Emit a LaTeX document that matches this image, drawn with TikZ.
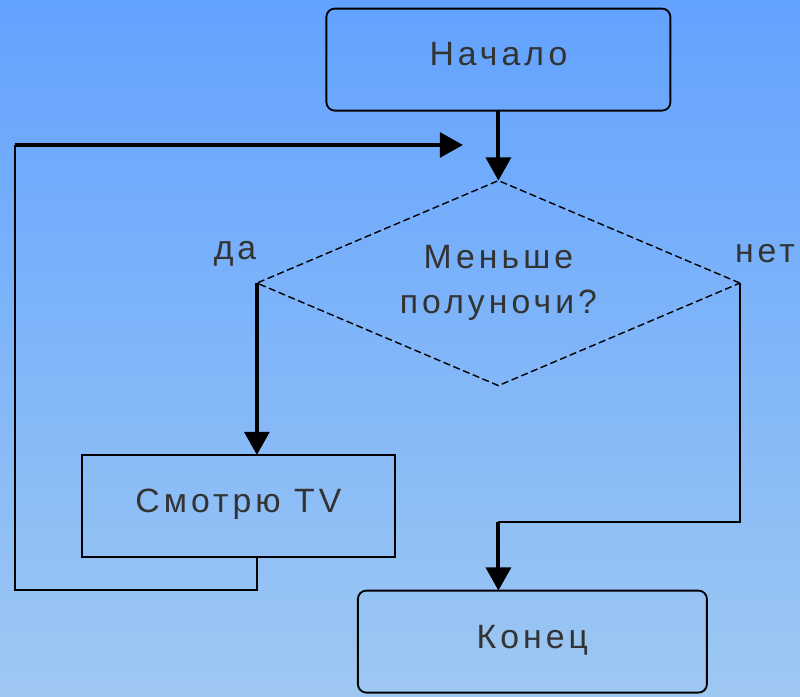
\documentclass[tikz,border=0pt]{standalone}
\usepackage{fontspec}
\setmainfont{Liberation Sans}[LetterSpace=12]
\usetikzlibrary{positioning, shapes.geometric, arrows.meta}

\begin{document}
\begin{tikzpicture}[
every node/.style={
    font=\fontsize{24}{32}\selectfont,
    text=black!80,
    align=center,
    outer sep=0pt,
    },
startstop/.style={
    draw, rectangle, rounded corners=6pt, line width=1.3pt,
    minimum width=8.6cm, minimum height=2.55cm,
    },
process/.style={
    draw, rectangle, line width=1.3pt,
    minimum width=7.825cm, minimum height=2.55cm,
    },
decision/.style={
    draw, diamond, aspect=2.36, line width=1pt,
    dash pattern=on 5pt off 2.5pt,
    minimum width=12.075cm, minimum height=5.125cm,
    },
flow/.style={
    draw, line width=2.8pt,
    -{Triangle[length=0.58cm, width=0.62cm]},
    },
back/.style={
    draw, line width=1.3pt,
    },
]
% background
\useasboundingbox (0,0) rectangle (20,17.4);
\fill[top color={rgb,255:red,98;green,162;blue,255},
      bottom color={rgb,255:red,158;green,200;blue,242}]
     (0,0) rectangle (20,17.4);

\node[startstop] (start) at (12.46,15.91) {\raisebox{8pt}{Начало}};
\node[decision] (cond) [below=1.75cm of start] {Меньше\\полуночи?};
\node[process] (tv) at (5.96,4.75) {\raisebox{8pt}{Смотрю TV}};
\node[startstop, minimum width=8.725cm] (end) at (13.31,1.36) {\raisebox{6pt}{Конец}};
\node (yes) at (5.875,11.05) {да};
\node (no) at (19.125,11.05) {нет};

\coordinate (loop) at (0.375,13.775);
\coordinate (turn) at (12.46,4.35);

\path[flow] (start) -- (cond);
\path[flow] (cond.west) -- (cond.west |- tv.north);
\path[back] (cond.west |- tv.south) -- ++(0,-0.825) -| (loop);
\path[flow] (loop) -- (11.575,13.775);
\path[back] (cond.east) -- (cond.east |- turn) -- (turn);
\path[flow] (turn) -- (turn |- end.north);
\end{tikzpicture}
\end{document}
